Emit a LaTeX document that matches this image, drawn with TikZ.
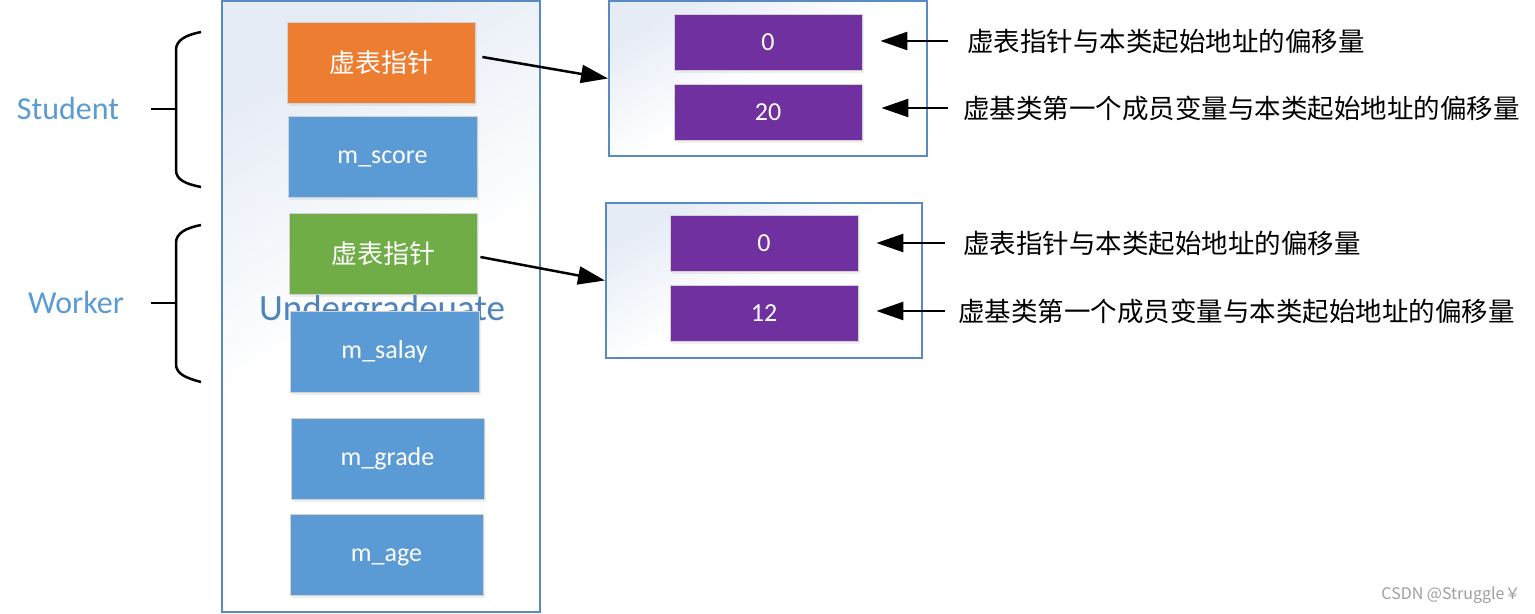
\documentclass[tikz,border=0pt]{standalone}
\usepackage{fontspec}
\setmainfont{Carlito}
\newfontfamily\cjk{Noto Sans CJK SC}
\usetikzlibrary{arrows.meta,shadows,calc}
\definecolor{cOrange}{HTML}{ED7D31}
\definecolor{cBlue}{HTML}{5B9BD5}
\definecolor{cGreen}{HTML}{70AD47}
\definecolor{cPurple}{HTML}{7030A0}
\definecolor{cFrame}{HTML}{5A8AC2}
\definecolor{cShade}{HTML}{E6ECF6}
\definecolor{cLabel}{HTML}{5B9BD5}
\definecolor{cUnder}{HTML}{4F83BE}
\tikzset{
  px/.style={x=0.5pt,y=-0.5pt},
  cell/.style={draw=black!18, line width=0.4pt, text=white, inner sep=0pt,
    minimum height=40.5pt, font=\fontsize{13}{15}\selectfont,
    drop shadow={opacity=0.12, shadow xshift=1pt, shadow yshift=-1.5pt}},
  latin/.style={text height=0.9em, text depth=0.2em},
  vcell/.style={cell, minimum height=28pt, minimum width=94pt},
  frame/.style={draw=cFrame, line width=1pt, inner sep=0pt,
    top color=cShade, bottom color=white, middle color=white, shading angle=30},
  side/.style={inner sep=0pt, anchor=west, font=\cjk\fontsize{13.25}{15}\selectfont},
  arr/.style={line width=1.25pt, -{Triangle[length=13.5pt,width=9pt]}},
  brace/.style={line width=1.25pt},
  grp/.style={text=cLabel, font=\fontsize{16}{18}\selectfont}
}
\begin{document}
\begin{tikzpicture}[px]
\useasboundingbox (0,0) rectangle (1535,614);
% containers
\node[frame, minimum width=159pt, minimum height=305.5pt] (obj) at (381,306.5) {};
\node[frame, minimum width=159pt, minimum height=77.5pt] (vt1) at (768,78.5) {};
\node[frame, minimum width=158pt, minimum height=77.5pt] (vt2) at (764,280.5) {};
% class name
\node[text=cUnder, font=\fontsize{18.5}{20}\selectfont] (uname) at (382,311) {Undergradeuate};
% object cells
\node[cell, fill=cOrange, minimum width=94pt] (vp1) at (381,62.5) {\cjk 虚表指针};
\node[cell, latin, fill=cBlue, minimum width=94.5pt] (score) at (382.5,156.5) {m\_score};
\node[cell, fill=cGreen, minimum width=94pt] (vp2) at (383,253.5) {\cjk 虚表指针};
\node[cell, latin, fill=cBlue, minimum width=94.5pt] (salay) at (384.5,351.5) {m\_salay};
\node[cell, latin, fill=cBlue, minimum width=96.5pt] (grade) at (387.5,458.5) {m\_grade};
\node[cell, latin, fill=cBlue, minimum width=96.5pt] (age) at (386.5,554.5) {m\_age};
% vtable cells
\node[vcell, fill=cPurple] (p1) at (768,42) {0};
\node[vcell, fill=cPurple] (p2) at (768,112) {20};
\node[vcell, fill=cPurple] (p3) at (764,243) {0};
\node[vcell, fill=cPurple] (p4) at (764,313) {12};
% side labels
\node[side] (l1) at (967,41) {虚表指针与本类起始地址的偏移量};
\node[side] (l2) at (963,108) {虚基类第一个成员变量与本类起始地址的偏移量};
\node[side] (l3) at (963,243) {虚表指针与本类起始地址的偏移量};
\node[side] (l4) at (958,311) {虚基类第一个成员变量与本类起始地址的偏移量};
% group labels
\node[grp] (stu) at (68,109) {Student};
\node[grp] (wrk) at (76,303) {Worker};
% braces
\draw[brace] (201,32) .. controls (186,35) and (176,40) .. (176,50) -- (176,170) .. controls (176,180) and (186,184) .. (201,187);
\draw[brace] (151,109) -- (176,109);
\draw[brace] (201,225) .. controls (186,228) and (176,233) .. (176,243) -- (176,364) .. controls (176,374) and (186,378) .. (201,382);
\draw[brace] (151,303) -- (176,303);
% arrows
\draw[arr] ([xshift=3.5pt,yshift=2.75pt]vp1.east) -- (vt1.west);
\draw[arr] ([xshift=1.5pt,yshift=-1.75pt]vp2.east) -- (vt2.west);
\draw[arr, shorten <=9.5pt, shorten >=9pt] (l1.west) -- (l1.west -| p1.east);
\draw[arr, shorten <=7.5pt, shorten >=9.5pt] (l2.west) -- (l2.west -| p2.east);
\draw[arr, shorten <=9pt, shorten >=9pt] (l3.west) -- (l3.west -| p3.east);
\draw[arr, shorten <=6.5pt, shorten >=9pt] (l4.west) -- (l4.west -| p4.east);
% watermark
\node[text=black!38, font=\cjk\fontsize{8}{9}\selectfont] (wm) at (1451,595) {CSDN @Struggle￥};
\end{tikzpicture}
\end{document}
